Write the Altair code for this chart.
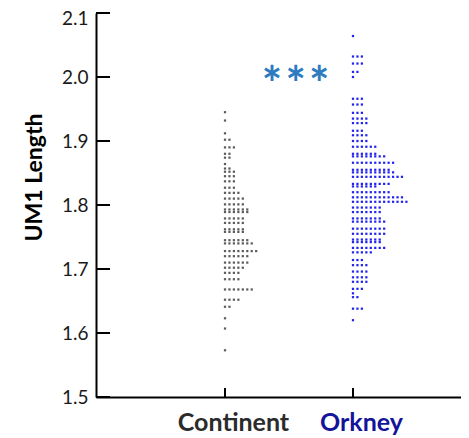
import altair as alt
import pandas as pd

categories = ["Continent", "Orkney"]

cont_vals = [1.945, 1.932, 1.912, 1.902, 1.890, 1.880, 1.874, 1.864, 1.857, 1.852,
             1.845, 1.837, 1.827, 1.819, 1.810, 1.801, 1.793, 1.789, 1.779, 1.772,
             1.762, 1.758, 1.745, 1.740, 1.728, 1.720, 1.710, 1.702, 1.694, 1.684,
             1.668, 1.652, 1.641, 1.623, 1.607, 1.573]
cont_counts = [1, 1, 1, 2, 3, 2, 2, 1, 2, 3,
               3, 3, 3, 4, 5, 5, 6, 6, 5, 5,
               5, 5, 6, 7, 8, 6, 6, 5, 4, 4,
               7, 4, 2, 1, 1, 1]

ork_vals = [2.064, 2.032, 2.021, 2.008, 2.000, 1.966, 1.957, 1.944, 1.935, 1.928,
            1.916, 1.909, 1.900, 1.891, 1.880, 1.876, 1.866, 1.855, 1.851, 1.844,
            1.833, 1.829, 1.820, 1.812, 1.805, 1.796, 1.789, 1.779, 1.774, 1.763,
            1.755, 1.746, 1.742, 1.733, 1.726, 1.714, 1.706, 1.696, 1.687, 1.680,
            1.669, 1.662, 1.656, 1.638, 1.620]
ork_counts = [1, 3, 3, 2, 1, 3, 3, 3, 4, 4,
              3, 4, 4, 6, 6, 8, 10, 9, 10, 12,
              9, 6, 9, 12, 13, 7, 7, 7, 8, 8,
              8, 7, 7, 8, 5, 3, 4, 4, 4, 4,
              3, 1, 2, 3, 1]

y_ticks = [1.5, 1.6, 1.7, 1.8, 1.9, 2.0, 2.1]
x_ticks = [0, 1]
sig_text = ["*", "*", "*"]
sig_x = [0.367, 0.553, 0.736]
sig_y = [1.962, 1.962, 1.962]

STEP = 0.0348  # horizontal spacing of stacked dots (in x units)

rows = []
for ci, (vals, counts) in enumerate([(cont_vals, cont_counts), (ork_vals, ork_counts)]):
    for v, n in zip(vals, counts):
        for k in range(n):
            rows.append({"group": categories[ci], "xpos": ci + k * STEP, "value": v})
df = pd.DataFrame(rows)

W, H = 365, 384
FONT = "Lato"

xscale = alt.Scale(domain=[-1.008, 1.844], nice=False, zero=False)
yscale = alt.Scale(domain=[1.5, 2.1], nice=False, zero=False)

x_axis = alt.Axis(
    values=x_ticks,
    labelExpr="datum.value == 0 ? 'Continent' : 'Orkney'",
    ticks=False, tickSize=0, grid=False,
    domainColor="black", domainWidth=2,
    labelFont=FONT, labelFontSize=25, labelFontWeight="bold",
    labelColor={"condition": {"test": "datum.value == 1", "value": "#14149a"}, "value": "#2b2b2b"},
    labelBaseline="middle", labelPadding=25, labelOffset=8, labelFlush=False,
    title=None,
)
y_axis = alt.Axis(
    values=y_ticks, format=".1f",
    ticks=False, tickSize=0, grid=False,
    domainColor="black", domainWidth=2,
    labelFont=FONT, labelFontSize=19, labelColor="#1a1a1a", labelPadding=8,
    labelOffset={"condition": {"test": "datum.value > 2.05", "value": 5}, "value": 0},
    title="UM1 Length", titleFont=FONT, titleFontSize=23, titleFontWeight="bold",
    titleColor="black", titleAngle=270, titleX=-55, titleY=164,
    titleAlign="center", titleBaseline="alphabetic",
)

points = alt.Chart(df).mark_square(size=5, opacity=1).encode(
    x=alt.X("xpos:Q", scale=xscale, axis=x_axis),
    y=alt.Y("value:Q", scale=yscale, axis=y_axis),
    color=alt.Color("group:N", scale=alt.Scale(domain=categories, range=["#5c5c5c", "#2323f0"]), legend=None),
)

ytick_df = pd.DataFrame({"tick": y_ticks})
yticks = alt.Chart(ytick_df).mark_rule(color="black", strokeWidth=2).encode(
    y=alt.Y("tick:Q", scale=yscale, axis=y_axis),
    x=alt.value(0), x2=alt.value(14),
)

xtick_df = pd.DataFrame({"tick": x_ticks})
xticks = alt.Chart(xtick_df).mark_rule(color="black", strokeWidth=2).encode(
    x=alt.X("tick:Q", scale=xscale, axis=x_axis),
    y=alt.value(H - 9), y2=alt.value(H),
)

sig_df = pd.DataFrame({"x": sig_x, "y": sig_y, "t": sig_text})
sig = alt.Chart(sig_df).mark_text(
    font=FONT, fontSize=48, fontWeight="bold", color="#2e7bbf",
    align="center", baseline="alphabetic",
).encode(
    x=alt.X("x:Q", scale=xscale, axis=x_axis),
    y=alt.Y("y:Q", scale=yscale, axis=y_axis),
    text="t:N",
)

chart = alt.layer(points, yticks, xticks, sig).properties(
    width=W, height=H,
    autosize=alt.AutoSizeParams(type="none"),
    padding={"left": 88, "top": 5, "right": 0, "bottom": 40},
).configure_view(stroke=None)

chart.save("out.html", embed_options={"renderer": "svg", "actions": False})
